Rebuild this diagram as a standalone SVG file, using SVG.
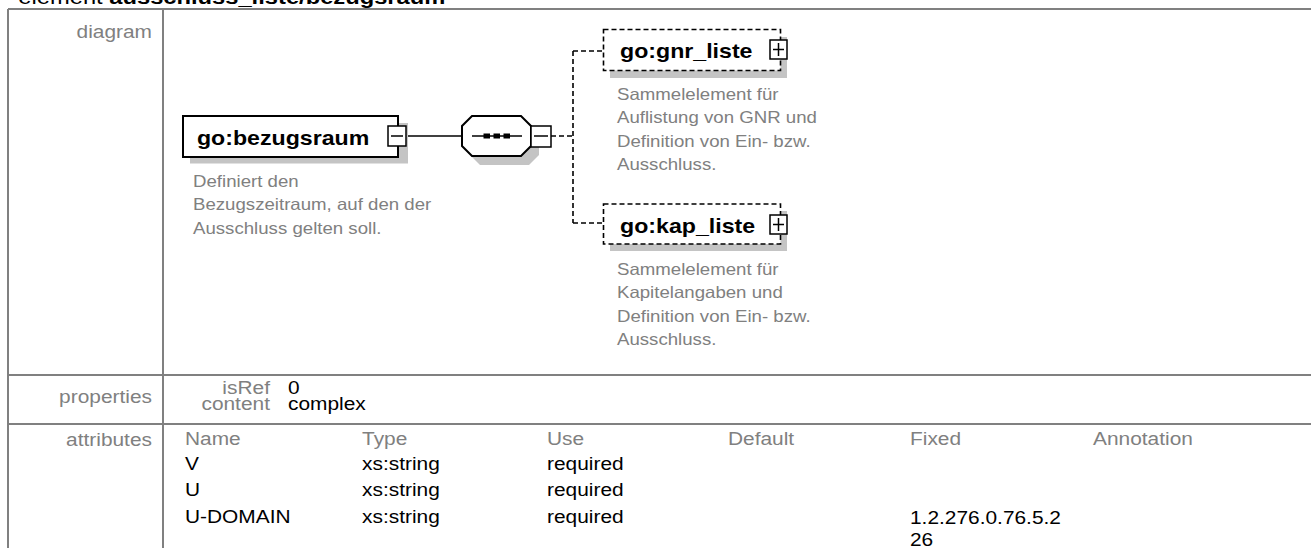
<svg xmlns="http://www.w3.org/2000/svg" width="1311" height="548" viewBox="0 0 1311 548">
<style>
text{font-family:"Liberation Sans",Arial,sans-serif}
.t{font-size:21px;fill:#000}
.lab{font-size:18.5px;fill:#808080}
.val{font-size:18.5px;fill:#000}
.nm{font-size:20.5px;font-weight:bold;fill:#000}
.ds{font-size:16.5px;fill:#808080}
.grid{stroke:#808080;stroke-width:2;fill:none}
.box{fill:#fff;stroke:#000;stroke-width:2}
.dbox{fill:#fff;stroke:#000;stroke-width:1.6;stroke-dasharray:5 3}
.sh{fill:#c4c4c4}
.btn{fill:#fff;stroke:#000;stroke-width:1.5}
.ln{stroke:#000;stroke-width:1.5;fill:none}
.dl{stroke:#000;stroke-width:1.6;fill:none;stroke-dasharray:5 3}
</style>
<rect width="1311" height="548" fill="#fff"/>
<g id="table">
<path class="grid" d="M8 9H1311M8 9V548M163 9V548M8 375H1311M8 424H1311"/>
</g>
<g id="labels" transform="scale(1.13 1)">
<text class="t" x="16.2" y="4">element <tspan font-weight="bold">ausschluss_liste/bezugsraum</tspan></text>
<text class="lab" x="134.5" y="38" text-anchor="end">diagram</text>
<text class="lab" x="134.5" y="403" text-anchor="end">properties</text>
<text class="lab" x="134.5" y="446" text-anchor="end">attributes</text>
<text class="lab" x="238.9" y="394" text-anchor="end">isRef</text>
<text class="val" x="254.9" y="394">0</text>
<text class="lab" x="238.9" y="410" text-anchor="end">content</text>
<text class="val" x="254.9" y="410">complex</text>
<text class="lab" x="163.7" y="445">Name</text>
<text class="lab" x="320.4" y="445">Type</text>
<text class="lab" x="484.1" y="445">Use</text>
<text class="lab" x="644.2" y="445">Default</text>
<text class="lab" x="805.3" y="445">Fixed</text>
<text class="lab" x="967.3" y="445">Annotation</text>
<text class="val" x="163.7" y="470">V</text>
<text class="val" x="320.4" y="470">xs:string</text>
<text class="val" x="484.1" y="470">required</text>
<text class="val" x="163.7" y="496.5">U</text>
<text class="val" x="320.4" y="496.5">xs:string</text>
<text class="val" x="484.1" y="496.5">required</text>
<text class="val" x="163.7" y="523">U-DOMAIN</text>
<text class="val" x="320.4" y="523">xs:string</text>
<text class="val" x="484.1" y="523">required</text>
<text class="val" x="805.3" y="524">1.2.276.0.76.5.2</text>
<text class="val" x="805.3" y="546">26</text>
</g>
<g id="connectors">
<path class="ln" d="M407 136H462"/>
<path class="dl" d="M551 136H573M573 51V223M573 51H603M573 223H603"/>
</g>
<g id="bezugsraum">
<rect class="sh" x="190" y="123" width="218" height="40.5"/>
<rect class="box" x="183" y="116" width="215" height="41"/>
<text class="nm" x="174.3" y="145" transform="scale(1.13 1)">go:bezugsraum</text>
<rect class="btn" x="388" y="126" width="18" height="20"/>
<path class="ln" d="M391 136H403"/>
<g transform="scale(1.13 1)">
<text class="ds" x="170.8" y="187">Definiert den</text>
<text class="ds" x="170.8" y="210.5">Bezugszeitraum, auf den der</text>
<text class="ds" x="170.8" y="234">Ausschluss gelten soll.</text>
</g>
</g>
<g id="sequence">
<polygon class="sh" points="480,125 529,125 539,135 539,155 529,165 480,165 470,155 470,135"/>
<polygon class="box" points="472,116 521,116 531,126 531,146 521,156 472,156 462,146 462,126"/>
<path class="ln" d="M472 136H522"/>
<rect x="483.5" y="133.5" width="6.5" height="5" fill="#000"/>
<rect x="493.5" y="133.5" width="6.5" height="5" fill="#000"/>
<rect x="503.5" y="133.5" width="6.5" height="5" fill="#000"/>
<rect class="btn" x="531" y="126" width="20" height="21"/>
<path class="ln" d="M534 136H548"/>
</g>
<g id="gnr_liste">
<rect class="sh" x="610" y="37" width="177" height="41"/>
<rect class="dbox" x="603.5" y="29.5" width="177" height="41"/>
<text class="nm" x="548.7" y="58" transform="scale(1.13 1)">go:gnr_liste</text>
<rect class="btn" x="770" y="40" width="17" height="19"/>
<path class="ln" d="M773 49.5H784M778.5 43V56"/>
<g transform="scale(1.13 1)">
<text class="ds" x="546" y="100">Sammelelement für</text>
<text class="ds" x="546" y="123.5">Auflistung von GNR und</text>
<text class="ds" x="546" y="147">Definition von Ein- bzw.</text>
<text class="ds" x="546" y="170.5">Ausschluss.</text>
</g>
</g>
<g id="kap_liste">
<rect class="sh" x="610" y="211" width="177" height="40"/>
<rect class="dbox" x="603.5" y="204" width="177" height="40"/>
<text class="nm" x="548.7" y="233" transform="scale(1.13 1)">go:kap_liste</text>
<rect class="btn" x="770" y="215" width="17" height="19"/>
<path class="ln" d="M773 224.5H784M778.5 218V231"/>
<g transform="scale(1.13 1)">
<text class="ds" x="546" y="275">Sammelelement für</text>
<text class="ds" x="546" y="298.5">Kapitelangaben und</text>
<text class="ds" x="546" y="322">Definition von Ein- bzw.</text>
<text class="ds" x="546" y="345.5">Ausschluss.</text>
</g>
</g>
</svg>
